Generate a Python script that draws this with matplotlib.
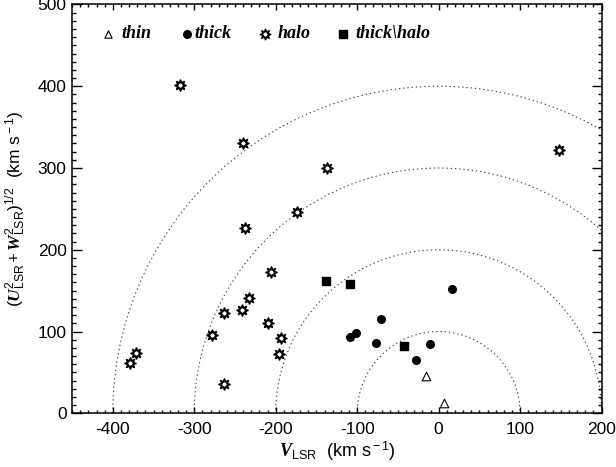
import matplotlib
matplotlib.use('Agg')
import matplotlib.pyplot as plt
from matplotlib.patches import Circle
from matplotlib.ticker import MultipleLocator

# Toomre diagram data (V_LSR, sqrt(U^2+W^2)) in km/s
thin_v = [-15, 7]
thin_w = [46, 12]

thick_v = [16, -71, -102, -109, -77, -11, -28]
thick_w = [152, 115, 98, 93, 86, 85, 65]

halo_v = [-317, -240, -137, -174, -238, -206, -233, -264, -242, -209,
          -193, -196, -278, -264, -371, -379, 148]
halo_w = [401, 331, 300, 246, 227, 173, 141, 123, 126, 110,
          92, 72, 96, 36, 74, 61, 322]

mix_v = [-109, -42, -138]
mix_w = [158, 82, 162]

radii = [100, 200, 300, 400]
legend_labels = ['thin', 'thick', 'halo', 'thick\\halo']

plt.rcParams['font.family'] = ['Liberation Sans', 'DejaVu Sans']
plt.rcParams['axes.unicode_minus'] = False
plt.rcParams['mathtext.fontset'] = 'custom'
plt.rcParams['mathtext.rm'] = 'Liberation Sans'
plt.rcParams['mathtext.it'] = 'Liberation Serif:italic'
plt.rcParams['mathtext.bf'] = 'Liberation Serif:bold'
plt.rcParams['mathtext.bfit'] = 'Liberation Serif:italic:bold'

fig = plt.figure(figsize=(6.16, 4.67), dpi=100)
ax = fig.add_axes([0.117, 0.115, 0.8596, 0.8754])

for r in radii:
    ax.add_patch(Circle((0, 0), r, fill=False, ec='0.25', lw=0.8,
                        ls=(0, (1.2, 2.6)), zorder=1))

star = (8, 1, 0)
ax.scatter(thin_v, thin_w, marker='^', s=38, facecolor='white', edgecolor='black', lw=0.8, zorder=3)
ax.scatter(thick_v, thick_w, marker='o', s=30, color='black', zorder=3)
ax.scatter(halo_v, halo_w, marker=star, s=60, facecolor='white', edgecolor='black', lw=1.3, zorder=3)
ax.scatter(mix_v, mix_w, marker='s', s=30, color='black', zorder=3)

# legend row drawn by hand along the top
leg_y = 0.928
marker_x = [0.0686, 0.2166, 0.364, 0.5124]
text_x = [0.0938, 0.2304, 0.3885, 0.5358]
styles = [dict(marker='^', s=28, facecolor='white', edgecolor='black', lw=0.8),
          dict(marker='o', s=30, color='black'),
          dict(marker=star, s=55, facecolor='white', edgecolor='black', lw=1.2),
          dict(marker='s', s=30, color='black')]
for mx, tx, lab, st in zip(marker_x, text_x, legend_labels, styles):
    ax.scatter([mx], [leg_y], transform=ax.transAxes, clip_on=False, **st)
    ax.text(tx, leg_y, lab, transform=ax.transAxes, va='center', ha='left',
            fontsize=13, family='Liberation Serif', style='italic', weight='bold')

ax.set_xlim(-450, 200)
ax.set_ylim(0, 500)
ax.xaxis.set_major_locator(MultipleLocator(100))
ax.xaxis.set_minor_locator(MultipleLocator(10))
ax.yaxis.set_major_locator(MultipleLocator(100))
ax.yaxis.set_minor_locator(MultipleLocator(10))
ax.tick_params(which='both', direction='in', top=True, right=True, width=1.0, labelsize=12.5)
ax.tick_params(axis='x', which='major', length=4.3, pad=6)
ax.tick_params(axis='x', which='minor', length=2.2)
ax.tick_params(axis='y', which='major', length=7, pad=4)
ax.tick_params(axis='y', which='minor', length=3.2)
for sp in ax.spines.values():
    sp.set_linewidth(1.1)

ax.set_xlabel(r'$\mathbfit{V}_{\rm LSR}$  (km s$^{\rm -1}$)', fontsize=13, labelpad=2)
ax.set_ylabel(r'$(\mathbfit{U}^{2}_{\rm LSR}\,\mathbf{+}\,\mathbfit{W}^{2}_{\rm LSR})^{1/2}$  (km s$^{\rm -1}$)',
              fontsize=12.5, labelpad=7)

fig.savefig('out.png', dpi=100)
